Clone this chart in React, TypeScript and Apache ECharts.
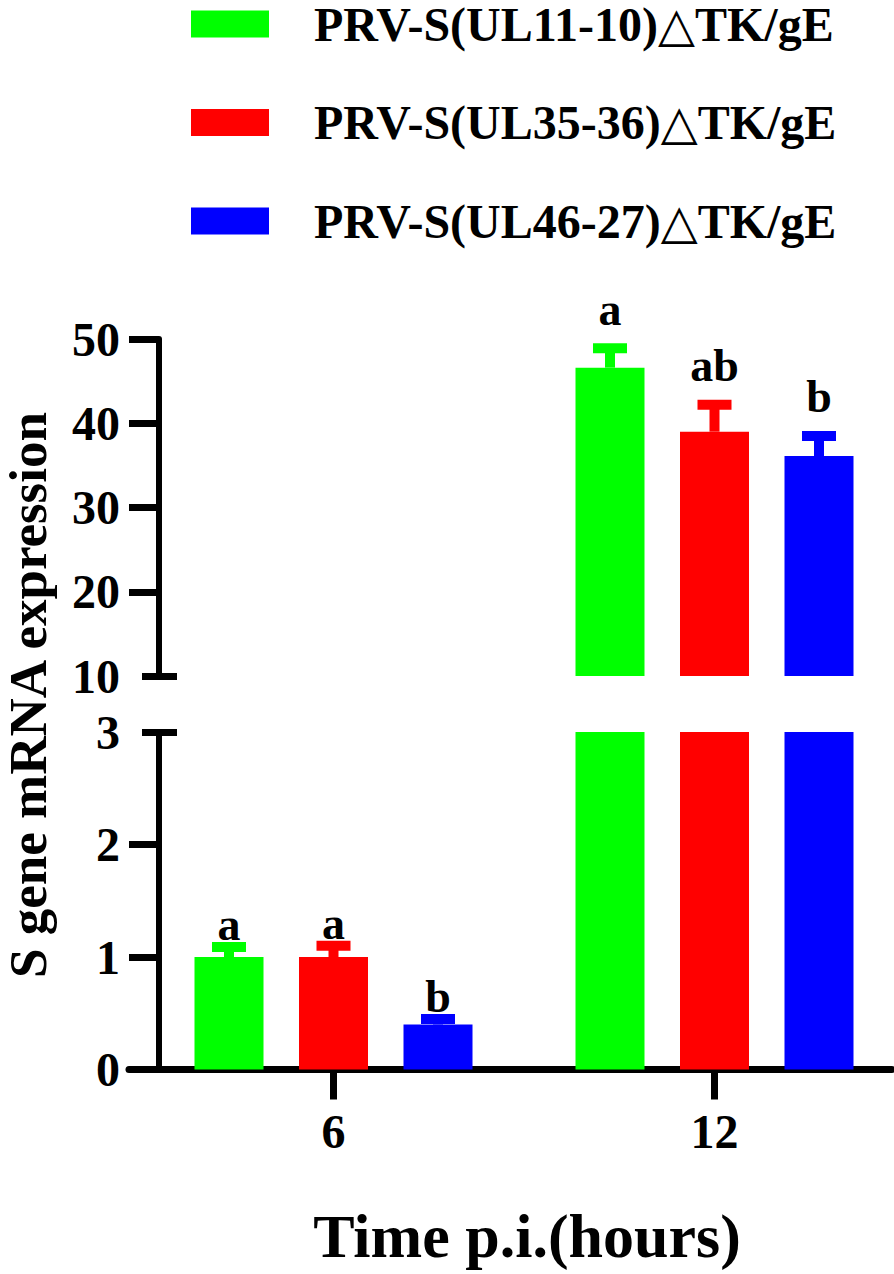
import React, { useEffect, useRef } from 'react';
import * as echarts from 'echarts';

// ---------- data ----------
const categories = ['6', '12'];
const seriesNames = ['PRV-S(UL11-10)△TK/gE', 'PRV-S(UL35-36)△TK/gE', 'PRV-S(UL46-27)△TK/gE'];
const greenMeans = [1.0, 46.6];
const redMeans = [1.0, 39.0];
const blueMeans = [0.4, 36.1];
const greenErr = [0.09, 2.3];
const redErr = [0.1, 3.2];
const blueErr = [0.05, 2.4];
const greenLetters = ['a', 'a'];
const redLetters = ['a', 'ab'];
const blueLetters = ['b', 'b'];
const lowerTickValues = [0, 1, 2];
const upperTickValues = [20, 30, 40, 50];
const lowerBreak = [3];
const upperBreak = [10];
const xTitle = 'Time p.i.(hours)';
const yTitle = 'S gene mRNA expression';

// ---------- style ----------
const COLORS = ['#00ff00', '#ff0000', '#0000ff'];
const FONT = '"Liberation Serif", "Times New Roman", "DejaVu Serif", serif';
const BAR_W = 69;
const BAR_GAP_PX = 35.5;
const ERR_W = 10;
const CAP_HALF = 17;
const LETTER_GAP = [-6, 11];

const MEANS = [greenMeans, redMeans, blueMeans];
const ERRS = [greenErr, redErr, blueErr];
const LETTERS = [greenLetters, redLetters, blueLetters];

function errSeries(gridIdx: number, si: number) {
  const offset = (si - 1) * (BAR_W + BAR_GAP_PX);
  return {
    type: 'custom',
    xAxisIndex: gridIdx,
    yAxisIndex: gridIdx,
    z: 5,
    silent: true,
    data: categories.map((_, i) => [i, MEANS[si][i], ERRS[si][i]]),
    encode: { x: 0, y: 1 },
    renderItem: (params: any, api: any) => {
      const ci = api.value(0);
      const mean = api.value(1);
      const err = api.value(2);
      const base = api.coord([ci, mean]);
      const top = api.coord([ci, mean + err]);
      const cs = params.coordSys;
      if (top[1] < cs.y - 1 || base[1] > cs.y + cs.height + 1) return null;
      const x = base[0] + offset;
      const color = COLORS[si];
      const capTop = top[1] - ERR_W / 2;
      return {
        type: 'group',
        children: [
          { type: 'line', shape: { x1: x, y1: base[1], x2: x, y2: top[1] }, style: { stroke: color, lineWidth: ERR_W } },
          { type: 'line', shape: { x1: x - CAP_HALF, y1: top[1], x2: x + CAP_HALF, y2: top[1] }, style: { stroke: color, lineWidth: ERR_W } },
          {
            type: 'text',
            style: {
              text: LETTERS[si][params.dataIndex],
              x,
              y: capTop - LETTER_GAP[gridIdx],
              textAlign: 'center',
              textVerticalAlign: 'bottom',
              font: `bold 46px ${FONT}`,
              fill: '#000',
            },
          },
        ],
      };
    },
  };
}

function barSeries(gridIdx: number, si: number) {
  return {
    type: 'bar',
    name: seriesNames[si],
    xAxisIndex: gridIdx,
    yAxisIndex: gridIdx,
    barWidth: BAR_W,
    barGap: `${(BAR_GAP_PX / BAR_W) * 100}%`,
    itemStyle: { color: COLORS[si] },
    clip: true,
    data: MEANS[si],
  };
}

const axisLabelStyle = { color: '#000', fontFamily: FONT, fontWeight: 'bold', fontSize: 48 };

export default function App() {
  const ref = useRef<HTMLDivElement>(null);
  useEffect(() => {
    if (!ref.current) return;
    const chart = echarts.init(ref.current, undefined, { renderer: 'svg' });
    const option: any = {
      animation: false,
      backgroundColor: '#fff',
      legend: {
        orient: 'vertical',
        left: 191,
        top: 0,
        padding: 0,
        itemWidth: 78,
        itemHeight: 27,
        itemGap: 50.5,
        icon: 'rect',
        selectedMode: false,
        data: seriesNames,
        textStyle: {
          color: '#000',
          fontFamily: FONT,
          fontWeight: 'bold',
          fontSize: 48,
          lineHeight: 48,
          padding: [0, 0, 0, 40],
        },
      },
      grid: [
        { left: 143, width: 762, top: 732, height: 337.5, outerBoundsMode: 'none' },
        { left: 143, width: 762, top: 339, height: 337, outerBoundsMode: 'none' },
        { left: 129, width: 763, top: 732, height: 337.5, outerBoundsMode: 'none' },
      ],
      xAxis: [
        {
          type: 'category',
          gridIndex: 0,
          data: categories,
          axisLine: { show: false },
          axisTick: { show: true, alignWithLabel: true, length: 30, lineStyle: { color: '#000', width: 7 } },
          axisLabel: { ...axisLabelStyle, margin: 38 },
          splitLine: { show: false },
        },
        {
          type: 'category',
          gridIndex: 1,
          data: categories,
          show: false,
        },
        {
          type: 'value',
          gridIndex: 2,
          min: 0,
          max: 1,
          axisLine: { show: true, lineStyle: { color: '#000', width: 7 } },
          axisTick: { show: false },
          axisLabel: { show: false },
          splitLine: { show: false },
        },
      ],
      yAxis: [
        {
          type: 'value',
          gridIndex: 0,
          position: 'left',
          min: 0,
          max: 3,
          interval: 1,
          offset: -16,
          axisLine: { show: true, lineStyle: { color: '#000', width: 6 } },
          axisTick: { show: true, length: 30, customValues: lowerTickValues, lineStyle: { color: '#000', width: 7 } },
          axisLabel: { ...axisLabelStyle, margin: 39 },
          splitLine: { show: false },
        },
        {
          type: 'value',
          gridIndex: 1,
          position: 'left',
          min: 10,
          max: 50,
          interval: 10,
          offset: -16,
          axisLine: { show: true, lineStyle: { color: '#000', width: 6 } },
          axisTick: { show: true, length: 30, customValues: upperTickValues, lineStyle: { color: '#000', width: 7 } },
          axisLabel: { ...axisLabelStyle, margin: 39 },
          splitLine: { show: false },
        },
        {
          type: 'value',
          gridIndex: 0,
          position: 'left',
          min: 0,
          max: 3,
          interval: 1,
          offset: -34,
          axisLine: { show: false },
          axisTick: { show: true, length: 35, customValues: lowerBreak, lineStyle: { color: '#000', width: 7 } },
          axisLabel: { show: false },
          splitLine: { show: false },
        },
        {
          type: 'value',
          gridIndex: 1,
          position: 'left',
          min: 10,
          max: 50,
          interval: 10,
          offset: -34,
          axisLine: { show: false },
          axisTick: { show: true, length: 35, customValues: upperBreak, lineStyle: { color: '#000', width: 7 } },
          axisLabel: { show: false },
          splitLine: { show: false },
        },
        { type: 'value', gridIndex: 2, show: false, min: 0, max: 1 },
      ],
      graphic: [
        {
          type: 'text',
          x: 28,
          y: 695,
          rotation: Math.PI / 2,
          style: {
            text: yTitle,
            textAlign: 'center',
            textVerticalAlign: 'middle',
            font: `bold 53px ${FONT}`,
            fill: '#000',
          },
        },
        {
          type: 'text',
          x: 527,
          y: 1236,
          style: {
            text: xTitle,
            textAlign: 'center',
            textVerticalAlign: 'middle',
            font: `bold 62px ${FONT}`,
            fill: '#000',
          },
        },
      ],
      series: [
        barSeries(0, 0), barSeries(0, 1), barSeries(0, 2),
        barSeries(1, 0), barSeries(1, 1), barSeries(1, 2),
        errSeries(0, 0), errSeries(0, 1), errSeries(0, 2),
        errSeries(1, 0), errSeries(1, 1), errSeries(1, 2),
      ],
    };
    chart.setOption(option);
    return () => chart.dispose();
  }, []);
  return <div ref={ref} style={{ position: 'absolute', left: 0, top: 0, width: 894, height: 1274 }} />;
}
